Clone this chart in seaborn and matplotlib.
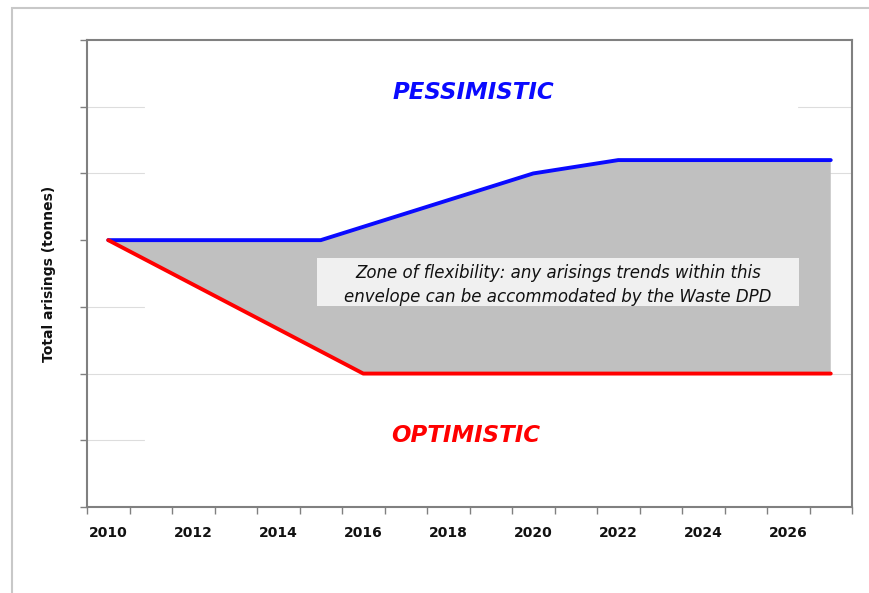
import matplotlib
matplotlib.use("Agg")
import matplotlib.pyplot as plt
import seaborn as sns
from matplotlib.patches import Rectangle

sns.set_theme(style="white")
plt.rcParams["font.family"] = ["DejaVu Sans"]

# breakpoints (y in tick units, no scale shown)
pess_years = [2010, 2015, 2020, 2022, 2027]
pess_vals = [4.0, 4.0, 5.0, 5.2, 5.2]
opt_years = [2010, 2016, 2027]
opt_vals = [4.0, 2.0, 2.0]
tick_years = list(range(2010, 2027, 2))

fig = plt.figure(figsize=(8.7, 5.93), dpi=100)
fig.patches.append(Rectangle((12 / 870, -0.1), 1.2, 1 - 8 / 593 + 0.1,
                             transform=fig.transFigure, fill=False,
                             edgecolor="#c8c8c8", linewidth=1.5))
ax = fig.add_axes([87 / 870, 1 - 507 / 593, (852 - 87) / 870, (507 - 40) / 593])

# faint partial gridlines
for y in [1, 3, 5, 6]:
    ax.axhline(y, xmin=0, xmax=0.075, color="#dddddd", lw=0.8, zorder=0)
for y in [5, 6]:
    ax.axhline(y, xmin=0.93, xmax=1, color="#dddddd", lw=0.8, zorder=0)
ax.axhline(2, color="#dddddd", lw=0.8, zorder=0)

# zone of flexibility
ax.fill(pess_years + opt_years[::-1], pess_vals + opt_vals[::-1],
        color="#c0c0c0", lw=0, zorder=1)
sns.lineplot(x=pess_years, y=pess_vals, ax=ax, color="#0a0aff", lw=2.8, zorder=3)
sns.lineplot(x=opt_years, y=opt_vals, ax=ax, color="#ff0000", lw=2.8, zorder=3)

ax.set_xlim(2009.5, 2027.5)
ax.set_ylim(0, 7)
ax.set_xticks(tick_years)
ax.set_xticklabels([str(y) for y in tick_years], fontweight="bold", fontsize=10,
                   color="#111111")
ax.set_xticks([y - 0.5 for y in range(2010, 2029)], minor=True)
ax.tick_params(axis="x", which="major", length=0, pad=14)
ax.tick_params(axis="x", which="minor", length=5, width=1, color="#808080", bottom=True)
ax.set_yticks(range(0, 8))
ax.set_yticklabels([])
ax.tick_params(axis="y", length=5, width=1, color="#808080", left=True)
for sp in ax.spines.values():
    sp.set_color("#808080")
    sp.set_linewidth(1.5)

ax.set_ylabel("Total arisings (tonnes)", fontweight="bold", fontsize=10,
              labelpad=14, color="#111111")

ax.text(2018.6, 6.22, "PESSIMISTIC", color="#0a0aff", fontsize=16.5,
        fontweight="bold", style="italic", ha="center", va="center")
ax.text(2018.4, 1.07, "OPTIMISTIC", color="#ff0000", fontsize=16.5,
        fontweight="bold", style="italic", ha="center", va="center")

# note box
ax.add_patch(Rectangle((0.3007, 0.4304), 0.63, 0.1028, transform=ax.transAxes,
                       fc="#f0f0f0", ec="none", zorder=4))
ax.text(0.6157, 0.475,
        "Zone of flexibility: any arisings trends within this\n"
        "envelope can be accommodated by the Waste DPD",
        transform=ax.transAxes, fontsize=12, style="italic", ha="center",
        va="center", color="#111111", linespacing=1.4, zorder=5)

fig.savefig("out.png", dpi=100)
